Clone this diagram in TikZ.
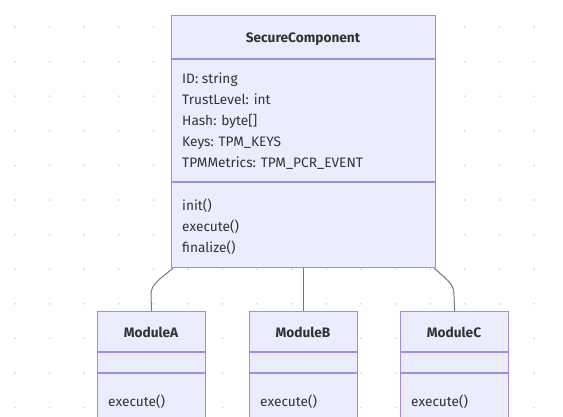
\documentclass[tikz,border=0pt]{standalone}
\usepackage{fontspec}
\setmainfont{Fira Sans}
\definecolor{boxfill}{HTML}{ECECFF}
\definecolor{boxline}{HTML}{A58BE3}
\definecolor{txt}{HTML}{333333}
\definecolor{dotc}{HTML}{DDDDDD}
\definecolor{linkc}{HTML}{777777}
\begin{document}
\begin{tikzpicture}[x=1pt,y=-1pt,
  box/.style={draw=boxline,fill=boxfill,line width=1.2pt,inner sep=0pt,anchor=north west},
  sep/.style={draw=boxline,line width=1.2pt},
  lbl/.style={text=txt,font=\fontsize{13.7}{15}\selectfont,anchor=base west,inner sep=0pt},
  ttl/.style={text=txt,font=\fontsize{13.7}{15}\selectfont\bfseries,anchor=base,inner sep=0pt},
  link/.style={draw=linkc,line width=1pt}]
\useasboundingbox (0,0) rectangle (563,416);
\clip (0,0) rectangle (563,416);
\fill[white] (0,0) rectangle (563,416);
% dot grid
\foreach \i in {0,...,16}{
  \foreach \j in {0,...,11}{
    \fill[dotc] ({15+34.6*\i},{27+34.6*\j}) circle (1.1pt);
  }
}
% main class
\node[box,minimum width=264pt,minimum height=252pt] (sc) at (171,15) {};
\draw[sep] (171,59) -- (435,59);
\draw[sep] (171,182) -- (435,182);
\node[ttl] (sct) at (303,42) {SecureComponent};
\node[lbl] (a1) at (182,83) {ID: string};
\node[lbl] (a2) at (182,104) {TrustLevel: int};
\node[lbl] (a3) at (182,125) {Hash: byte[]};
\node[lbl] (a4) at (182,146) {Keys: TPM\_KEYS};
\node[lbl] (a5) at (182,167) {TPMMetrics: TPM\_PCR\_EVENT};
\node[lbl] (m1) at (182,210) {init()};
\node[lbl] (m2) at (182,231) {execute()};
\node[lbl] (m3) at (182,252) {finalize()};
% modules
\foreach \n/\x/\t in {ma/97/ModuleA, mb/249/ModuleB, mc/400/ModuleC}{
  \node[box,minimum width=108pt,minimum height=130pt] (\n) at (\x,311) {};
  \draw[sep] (\x,352) -- ({\x+108},352);
  \draw[sep] (\x,373) -- ({\x+108},373);
  \node[ttl] (\n t) at ({\x+54},337) {\t};
  \node[lbl] (\n e) at ({\x+11},406) {execute()};
}
% connectors
\draw[link] ([xshift=2pt]sc.south west) .. controls (155,283) and (151,285) .. (151,296) -- (ma.north);
\draw[link] (sc.south -| mb.north) -- (mb.north);
\draw[link] ([xshift=-2pt]sc.south east) .. controls (451,283) and (454,285) .. (454,296) -- (mc.north);
\end{tikzpicture}
\end{document}
